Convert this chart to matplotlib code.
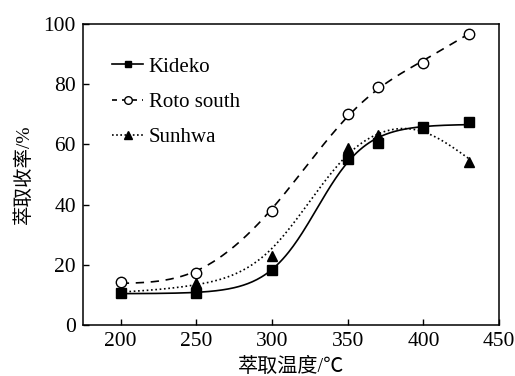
import numpy as np
import matplotlib.pyplot as plt

temps = [200, 250, 300, 350, 370, 400, 430]
kideko = [10.7, 10.7, 18.1, 55.0, 60.6, 65.8, 67.5]
roto_south = [14.3, 17.3, 38.0, 70.2, 79.0, 87.1, 96.8]
sunhwa = [11.0, 14.0, 22.9, 58.8, 63.0, 65.5, 54.0]

x = np.array(temps, dtype=float)
xs = np.arange(200, 431, 1.0)


def sigmoid_fit(x, y):
    # Boltzmann curve: grid search on centre/width, linear lsq on plateaus
    best = None
    for x0 in np.arange(280, 400, 0.5):
        for dx in np.arange(5, 60, 0.25):
            s = 1.0 / (1.0 + np.exp((x - x0) / dx))
            A = np.column_stack([s, 1 - s])
            coef, *_ = np.linalg.lstsq(A, y, rcond=None)
            err = np.sum((A @ coef - y) ** 2)
            if best is None or err < best[0]:
                best = (err, x0, dx, coef)
    _, x0, dx, coef = best

    def f(t):
        s = 1.0 / (1.0 + np.exp((t - x0) / dx))
        return coef[0] * s + coef[1] * (1 - s)
    return f


def smooth_fit(x, y, grid, lam):
    # penalised least squares on a fine grid (smoothing spline like)
    n = len(grid)
    W = np.zeros((n, n))
    b = np.zeros(n)
    for xi, yi in zip(x, y):
        i = int(np.argmin(np.abs(grid - xi)))
        W[i, i] += 1
        b[i] += yi
    D = np.diff(np.eye(n), 2, axis=0)
    return np.linalg.solve(W + lam * D.T @ D, b)


k_curve = sigmoid_fit(x, np.array(kideko))(xs)
r_curve = smooth_fit(x, roto_south, xs, 3e3)
s_curve = smooth_fit(x, sunhwa, xs, 3e3)

plt.rcParams['font.family'] = ['Liberation Serif', 'Noto Sans CJK SC']

fig = plt.figure(figsize=(5.15, 3.76), dpi=100)
ax = fig.add_axes([0.161, 0.136, 0.808, 0.80])

ax.plot(xs, k_curve, color='black', lw=1.2, ls='-')
ax.plot(xs, r_curve, color='black', lw=1.2, ls=(0, (5, 4)))
ax.plot(xs, s_curve, color='black', lw=1.2, ls=(0, (1, 1.6)))

ax.plot(temps, kideko, 's', color='black', ms=6.5, ls='none')
ax.plot(temps, roto_south, 'o', mfc='white', mec='black', mew=1.0, ms=7.5, ls='none')
ax.plot(temps, sunhwa, '^', color='black', ms=7.5, ls='none')

h1, = ax.plot([], [], color='black', lw=1.2, ls='-', marker='s', ms=5)
h2, = ax.plot([], [], color='black', lw=1.2, ls=(0, (3, 3)), marker='o', mfc='white', ms=5.5)
h3, = ax.plot([], [], color='black', lw=1.2, ls=(0, (1, 1.5)), marker='^', ms=5.5)
ax.legend([h1, h2, h3], ['Kideko', 'Roto south', 'Sunhwa'], loc='upper left',
          bbox_to_anchor=(0.07, 0.89), frameon=False, borderpad=0, borderaxespad=0,
          handlelength=1.5, handletextpad=0.25, labelspacing=0.75, fontsize=15)

ax.set_xlim(175, 450)
ax.set_ylim(0, 100)
ax.set_xticks([200, 250, 300, 350, 400, 450])
ax.set_yticks([0, 20, 40, 60, 80, 100])
ax.tick_params(direction='in', length=4, width=1, top=False, right=False,
               labelsize=15.5, pad=5)
for sp in ax.spines.values():
    sp.set_linewidth(1.1)

ax.set_xlabel('萃取温度/℃', fontsize=14.5, labelpad=5)
ax.set_ylabel('萃取收率/%', fontsize=14, labelpad=8)

fig.savefig('out.png', dpi=100)
